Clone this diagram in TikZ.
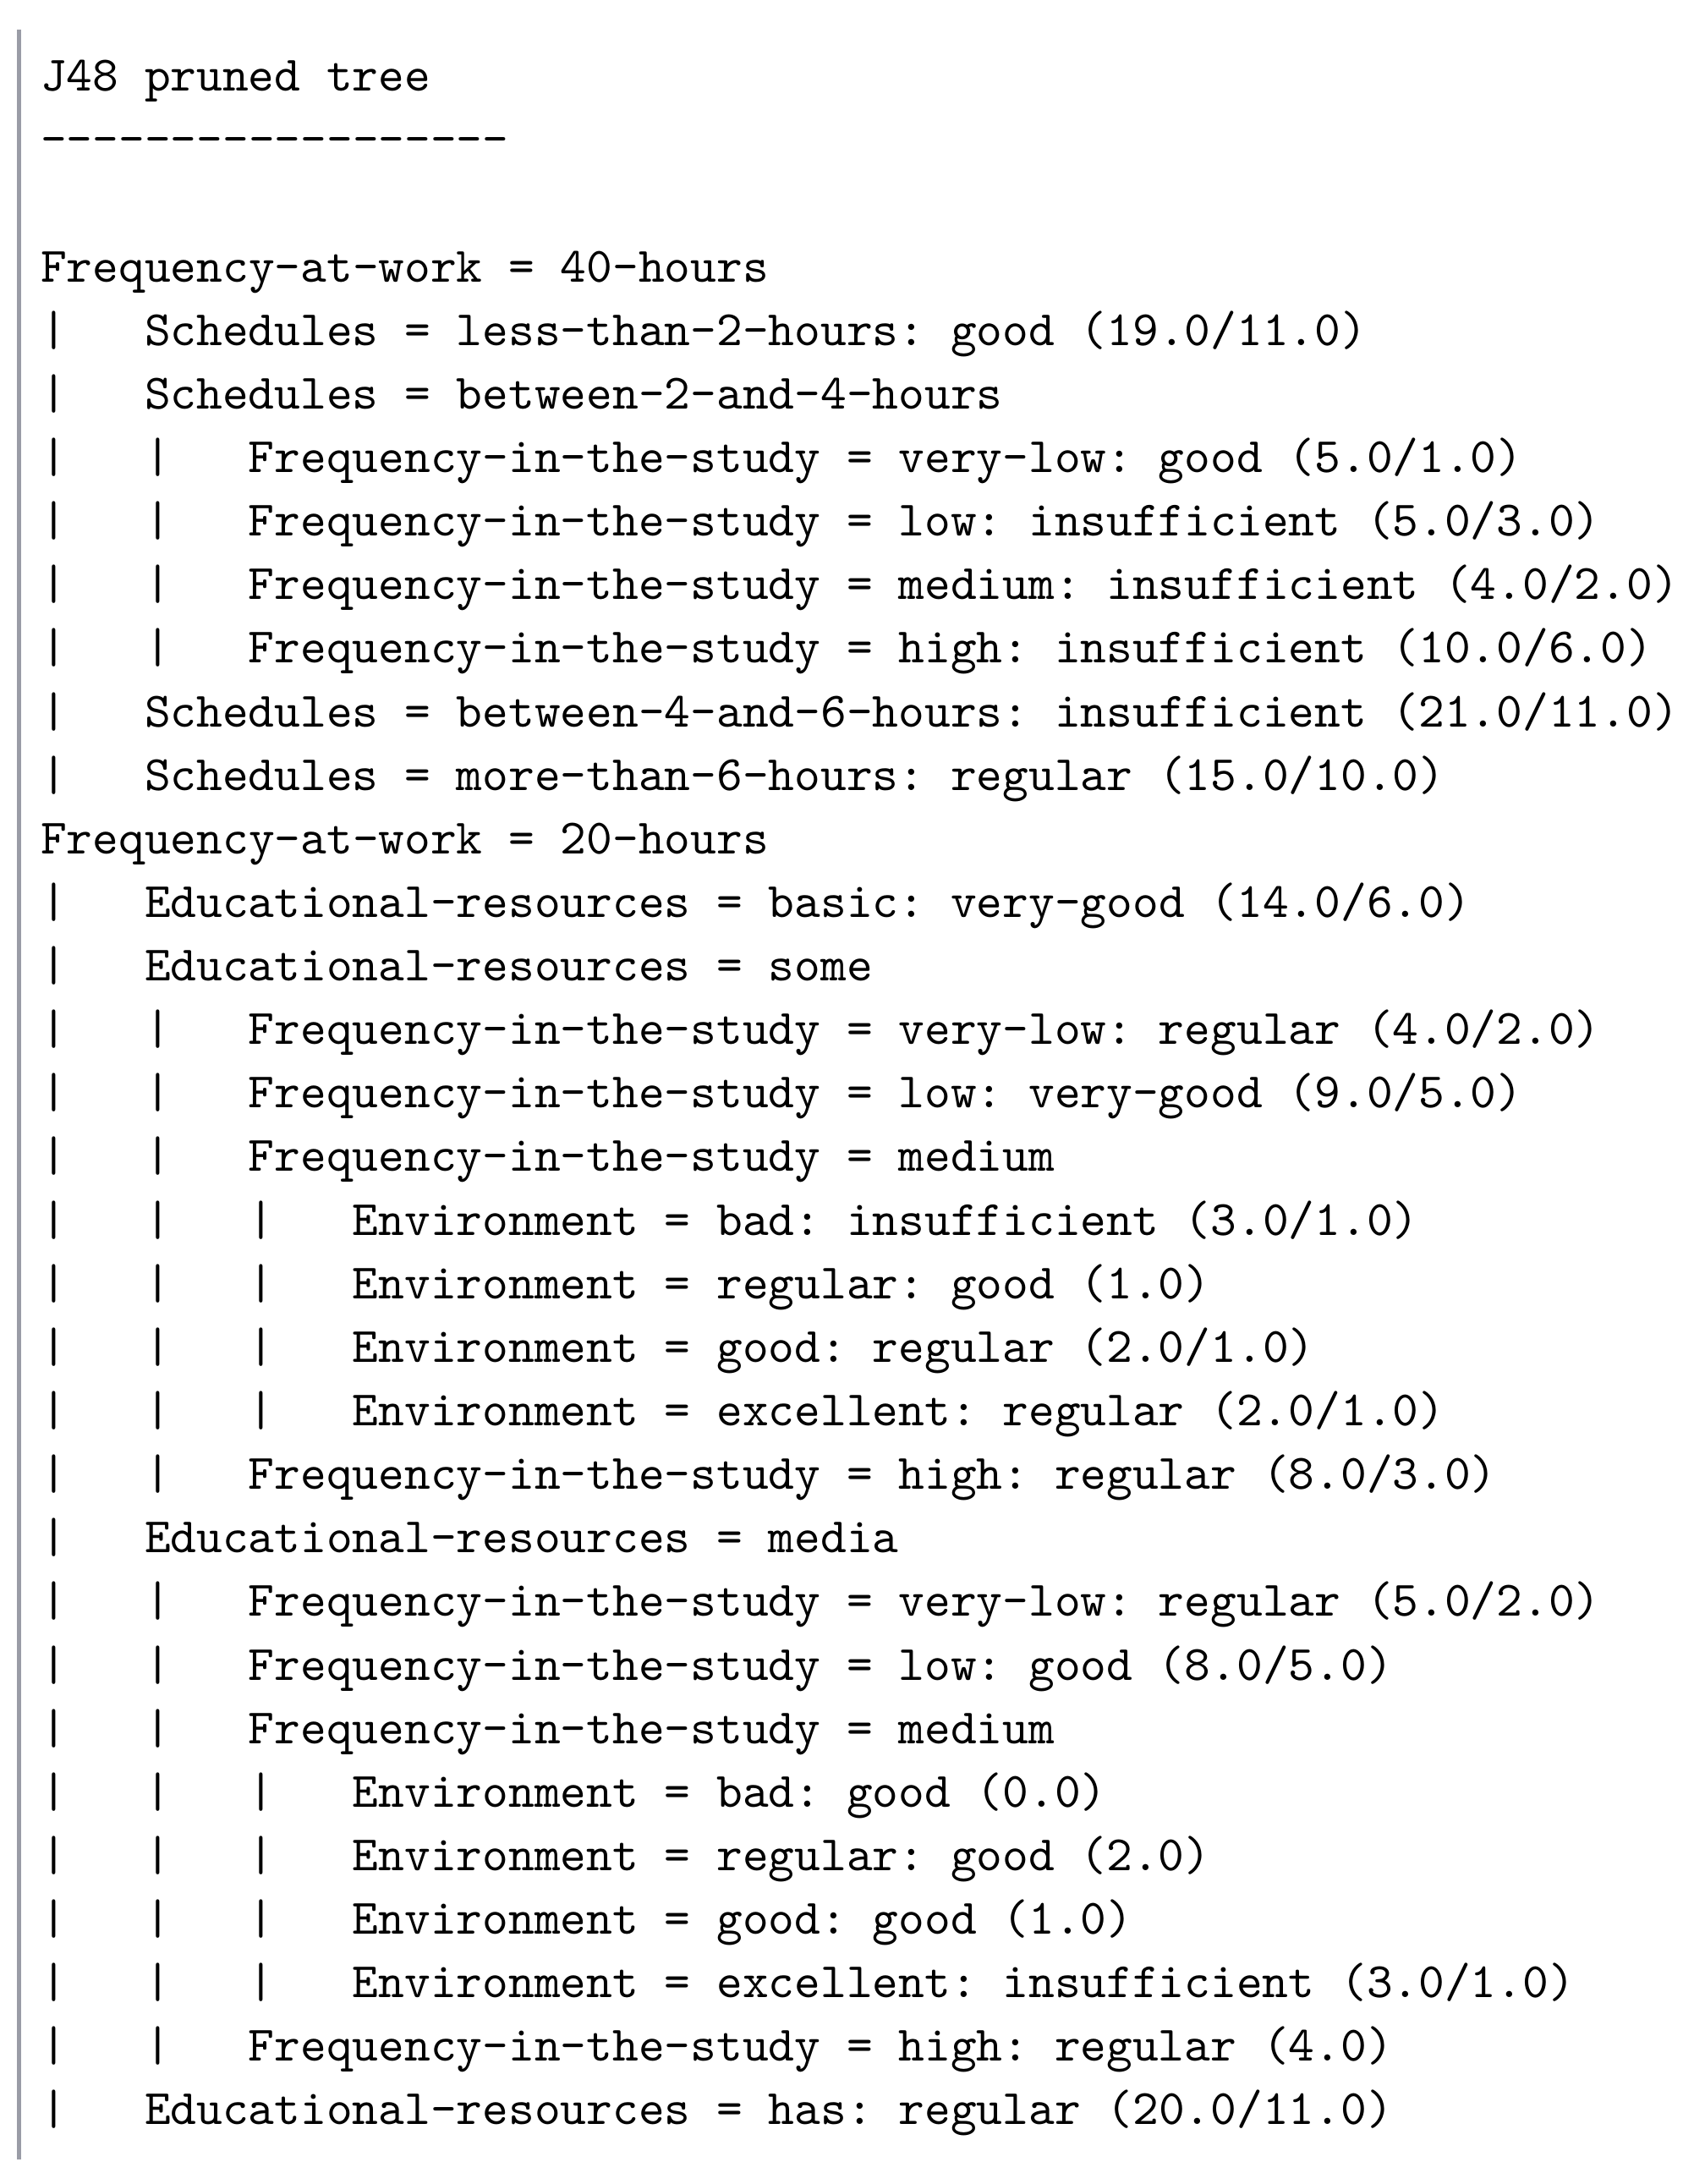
\documentclass[tikz,border=0pt]{standalone}
\usepackage{xcolor}
\usepackage{tikz}
\definecolor{ink}{HTML}{000000}
\definecolor{gutter}{HTML}{9A9CA6}
\newcommand{\treefont}{\fontsize{10.54pt}{13.52pt}\selectfont\ttfamily\frenchspacing}
\newcommand{\treebar}{|\ \ \ }
\newcommand{\hyph}{-\kern0pt}
\tikzset{
  gutterline/.style={draw=gutter, line width=0.95pt},
  row/.style={anchor=base west, inner sep=0pt, text=ink, font=\treefont}
}

\begin{document}
\begin{tikzpicture}[x=5.535pt, y=-13.523pt]
  % one unit = one character cell / one text line
  \useasboundingbox (-1.528,-1.4335) rectangle (63.577,32.933);

  \coordinate (gtop) at (-0.79,-0.968);
  \coordinate (gbot) at (-0.79,32.548);
  \draw[gutterline] (gtop) -- (gbot);

  \node[row] (title) at (0,0) {J48 pruned tree};
  \node[row] (sep) at (0,1) {\hyph\hyph\hyph\hyph\hyph\hyph\hyph\hyph\hyph\hyph\hyph\hyph\hyph\hyph\hyph\hyph\hyph\hyph};

  \node[row] (ln3) at (0,3) {Frequency-at-work = 40-hours};
  \node[row] (ln4) at (0,4) {\treebar Schedules = less-than-2-hours: good (19.0/11.0)};
  \node[row] (ln5) at (0,5) {\treebar Schedules = between-2-and-4-hours};
  \node[row] (ln6) at (0,6) {\treebar\treebar Frequency-in-the-study = very-low: good (5.0/1.0)};
  \node[row] (ln7) at (0,7) {\treebar\treebar Frequency-in-the-study = low: insufficient (5.0/3.0)};
  \node[row] (ln8) at (0,8) {\treebar\treebar Frequency-in-the-study = medium: insufficient (4.0/2.0)};
  \node[row] (ln9) at (0,9) {\treebar\treebar Frequency-in-the-study = high: insufficient (10.0/6.0)};
  \node[row] (ln10) at (0,10) {\treebar Schedules = between-4-and-6-hours: insufficient (21.0/11.0)};
  \node[row] (ln11) at (0,11) {\treebar Schedules = more-than-6-hours: regular (15.0/10.0)};

  \node[row] (ln12) at (0,12) {Frequency-at-work = 20-hours};
  \node[row] (ln13) at (0,13) {\treebar Educational-resources = basic: very-good (14.0/6.0)};
  \node[row] (ln14) at (0,14) {\treebar Educational-resources = some};
  \node[row] (ln15) at (0,15) {\treebar\treebar Frequency-in-the-study = very-low: regular (4.0/2.0)};
  \node[row] (ln16) at (0,16) {\treebar\treebar Frequency-in-the-study = low: very-good (9.0/5.0)};
  \node[row] (ln17) at (0,17) {\treebar\treebar Frequency-in-the-study = medium};
  \node[row] (ln18) at (0,18) {\treebar\treebar\treebar Environment = bad: insufficient (3.0/1.0)};
  \node[row] (ln19) at (0,19) {\treebar\treebar\treebar Environment = regular: good (1.0)};
  \node[row] (ln20) at (0,20) {\treebar\treebar\treebar Environment = good: regular (2.0/1.0)};
  \node[row] (ln21) at (0,21) {\treebar\treebar\treebar Environment = excellent: regular (2.0/1.0)};
  \node[row] (ln22) at (0,22) {\treebar\treebar Frequency-in-the-study = high: regular (8.0/3.0)};
  \node[row] (ln23) at (0,23) {\treebar Educational-resources = media};
  \node[row] (ln24) at (0,24) {\treebar\treebar Frequency-in-the-study = very-low: regular (5.0/2.0)};
  \node[row] (ln25) at (0,25) {\treebar\treebar Frequency-in-the-study = low: good (8.0/5.0)};
  \node[row] (ln26) at (0,26) {\treebar\treebar Frequency-in-the-study = medium};
  \node[row] (ln27) at (0,27) {\treebar\treebar\treebar Environment = bad: good (0.0)};
  \node[row] (ln28) at (0,28) {\treebar\treebar\treebar Environment = regular: good (2.0)};
  \node[row] (ln29) at (0,29) {\treebar\treebar\treebar Environment = good: good (1.0)};
  \node[row] (ln30) at (0,30) {\treebar\treebar\treebar Environment = excellent: insufficient (3.0/1.0)};
  \node[row] (ln31) at (0,31) {\treebar\treebar Frequency-in-the-study = high: regular (4.0)};
  \node[row] (ln32) at (0,32) {\treebar Educational-resources = has: regular (20.0/11.0)};
\end{tikzpicture}
\end{document}
